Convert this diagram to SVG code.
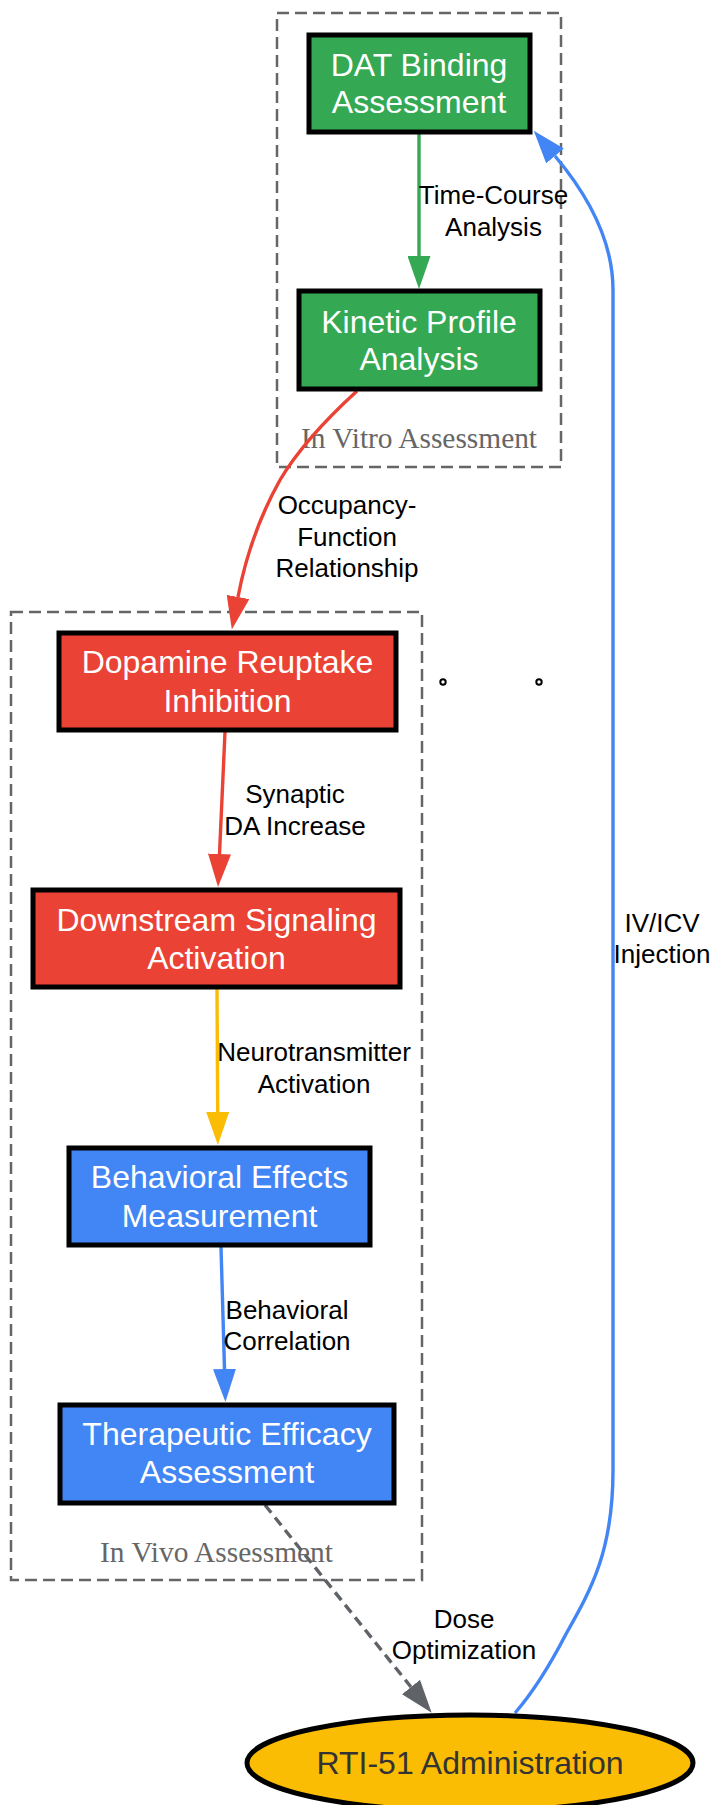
<svg xmlns="http://www.w3.org/2000/svg" width="716" height="1805" viewBox="0 0 716 1805">
<style>
.cluster{fill:none;stroke:#666666;stroke-width:2.5;stroke-dasharray:12,6}
.clabel{font-family:"Liberation Serif",serif;font-size:29.4px;fill:#666666;text-anchor:middle}
.node rect,.node ellipse{stroke:#000000;stroke-width:5}
.ntext{font-family:"Liberation Sans",Arial,sans-serif;font-size:32px;fill:#ffffff;text-anchor:middle}
.elabel{font-family:"Liberation Sans",Arial,sans-serif;font-size:26px;fill:#000000;text-anchor:middle}
.edge{fill:none;stroke-width:3.4}
</style>
<defs>
<marker id="ah-green" viewBox="0 0 33 23" refX="0" refY="11.5" markerWidth="33" markerHeight="23" markerUnits="userSpaceOnUse" orient="auto"><path d="M0,0 L33,11.5 L0,23 z" fill="#34a853"/></marker>
<marker id="ah-red" viewBox="0 0 33 23" refX="0" refY="11.5" markerWidth="33" markerHeight="23" markerUnits="userSpaceOnUse" orient="auto"><path d="M0,0 L33,11.5 L0,23 z" fill="#ea4335"/></marker>
<marker id="ah-yellow" viewBox="0 0 33 23" refX="0" refY="11.5" markerWidth="33" markerHeight="23" markerUnits="userSpaceOnUse" orient="auto"><path d="M0,0 L33,11.5 L0,23 z" fill="#fbbc04"/></marker>
<marker id="ah-blue" viewBox="0 0 33 23" refX="0" refY="11.5" markerWidth="33" markerHeight="23" markerUnits="userSpaceOnUse" orient="auto"><path d="M0,0 L33,11.5 L0,23 z" fill="#4285f4"/></marker>
<marker id="ah-gray" viewBox="0 0 33 23" refX="0" refY="11.5" markerWidth="33" markerHeight="23" markerUnits="userSpaceOnUse" orient="auto"><path d="M0,0 L33,11.5 L0,23 z" fill="#5f6368"/></marker>
</defs>
<rect width="716" height="1805" fill="#ffffff"/>
<g id="cluster-invitro">
<rect class="cluster" x="277" y="13" width="284" height="454"/>
<text class="clabel" x="419" y="448">In Vitro Assessment</text>
</g>
<g id="cluster-invivo">
<rect class="cluster" x="11" y="612" width="411" height="968"/>
<text class="clabel" x="216.5" y="1562">In Vivo Assessment</text>
</g>
<g id="connectors">
<path class="edge" stroke="#34a853" d="M419,133 L419,256" marker-end="url(#ah-green)"/>
<path class="edge" stroke="#ea4335" d="M357,391 C322,423 296,453 280,480 C261,514 246,555 238,597" marker-end="url(#ah-red)"/>
<path class="edge" stroke="#ea4335" d="M225,732 L219.5,854" marker-end="url(#ah-red)"/>
<path class="edge" stroke="#fbbc04" d="M217,989 L217.7,1112" marker-end="url(#ah-yellow)"/>
<path class="edge" stroke="#4285f4" d="M221,1247 L224.5,1369" marker-end="url(#ah-blue)"/>
<path class="edge" stroke="#5f6368" stroke-dasharray="10,6" d="M265,1505 L411,1687" marker-end="url(#ah-gray)"/>
<path class="edge" stroke="#4285f4" d="M515,1713 C535,1690 550,1665 566,1634 C592,1588 613,1550 613,1470 L613,290 C613,245 592,200 555,156" marker-end="url(#ah-blue)"/>
<text class="elabel" x="493.5" y="204">Time-Course</text>
<text class="elabel" x="493.5" y="236">Analysis</text>
<text class="elabel" x="347" y="514">Occupancy-</text>
<text class="elabel" x="347" y="545.5">Function</text>
<text class="elabel" x="347" y="577">Relationship</text>
<text class="elabel" x="295" y="803">Synaptic</text>
<text class="elabel" x="295" y="835">DA Increase</text>
<text class="elabel" x="314" y="1061">Neurotransmitter</text>
<text class="elabel" x="314" y="1093">Activation</text>
<text class="elabel" x="287" y="1319">Behavioral</text>
<text class="elabel" x="287" y="1350">Correlation</text>
<text class="elabel" x="464" y="1628">Dose</text>
<text class="elabel" x="464" y="1659">Optimization</text>
<text class="elabel" x="662" y="932">IV/ICV</text>
<text class="elabel" x="662" y="963">Injection</text>
</g>
<g id="node-dat" class="node">
<rect x="309" y="35" width="221" height="97" fill="#34a853"/>
<text class="ntext" x="419" y="76">DAT Binding</text>
<text class="ntext" x="419" y="113">Assessment</text>
</g>
<g id="node-kinetic" class="node">
<rect x="299" y="291" width="241" height="98" fill="#34a853"/>
<text class="ntext" x="419" y="333">Kinetic Profile</text>
<text class="ntext" x="419" y="370">Analysis</text>
</g>
<g id="node-dopamine" class="node">
<rect x="59" y="633" width="337" height="97" fill="#ea4335"/>
<text class="ntext" x="227.5" y="673">Dopamine Reuptake</text>
<text class="ntext" x="227.5" y="712">Inhibition</text>
</g>
<g id="node-downstream" class="node">
<rect x="33" y="890" width="367" height="97" fill="#ea4335"/>
<text class="ntext" x="216.5" y="931">Downstream Signaling</text>
<text class="ntext" x="216.5" y="969">Activation</text>
</g>
<g id="node-behavioral" class="node">
<rect x="69" y="1148" width="301" height="97" fill="#4285f4"/>
<text class="ntext" x="219.5" y="1188">Behavioral Effects</text>
<text class="ntext" x="219.5" y="1227">Measurement</text>
</g>
<g id="node-therapeutic" class="node">
<rect x="60" y="1405" width="334" height="98" fill="#4285f4"/>
<text class="ntext" x="227" y="1445">Therapeutic Efficacy</text>
<text class="ntext" x="227" y="1483">Assessment</text>
</g>
<g id="node-rti51" class="node">
<ellipse cx="470" cy="1763" rx="223" ry="48" fill="#fbbc04"/>
<text class="ntext" x="470" y="1774" style="fill:#333333">RTI-51 Administration</text>
</g>
<g id="node-point1"><circle cx="443" cy="682" r="2.7" fill="#ffffff" stroke="#000000" stroke-width="2"/></g>
<g id="node-point2"><circle cx="539" cy="682" r="2.7" fill="#ffffff" stroke="#000000" stroke-width="2"/></g>
</svg>
